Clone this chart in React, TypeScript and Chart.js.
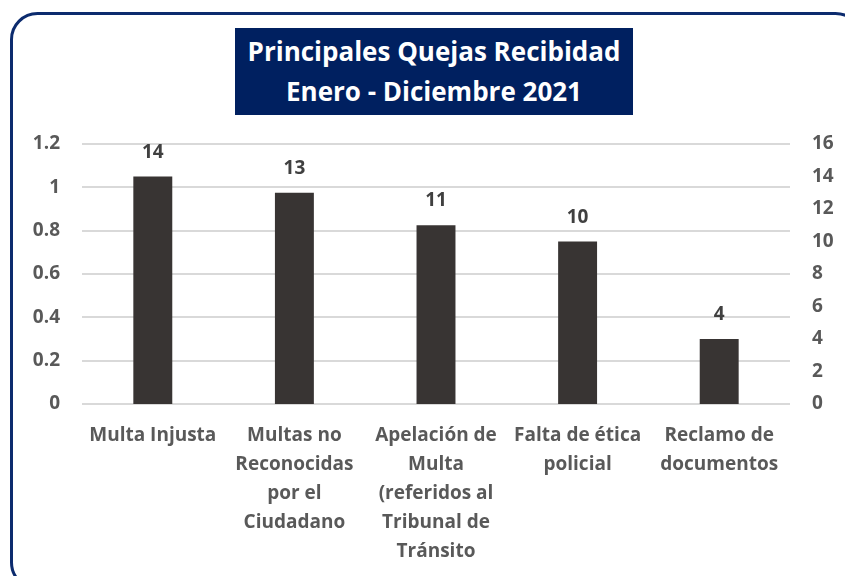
import React, { useEffect, useRef } from "react";
import { Chart, registerables } from "chart.js";

Chart.register(...registerables);

const categories: string[][] = [
  ["Multa Injusta"],
  ["Multas no", "Reconocidas", "por el", "Ciudadano"],
  ["Apelación de", "Multa", "(referidos al", "Tribunal de", "Tránsito"],
  ["Falta de ética", "policial"],
  ["Reclamo de", "documentos"],
];
const quejas: number[] = [14, 13, 11, 10, 4];
const titleLines: string[] = ["Principales Quejas Recibidad", "Enero - Diciembre 2021"];

const FONT = "'Open Sans', Lato, sans-serif";

const framePlugin = {
  id: "frame",
  beforeDraw(chart: any) {
    const ctx = chart.ctx;
    ctx.save();
    ctx.strokeStyle = "#0c2b6e";
    ctx.lineWidth = 3;
    const x = 11.5, y = 13.5, w = 850, h = 575, r = 26;
    ctx.beginPath();
    ctx.moveTo(x + r, y);
    ctx.lineTo(x + w - r, y);
    ctx.arcTo(x + w, y, x + w, y + r, r);
    ctx.lineTo(x + w, y + h - r);
    ctx.arcTo(x + w, y + h, x + w - r, y + h, r);
    ctx.lineTo(x + r, y + h);
    ctx.arcTo(x, y + h, x, y + h - r, r);
    ctx.lineTo(x, y + r);
    ctx.arcTo(x, y, x + r, y, r);
    ctx.closePath();
    ctx.stroke();
    ctx.restore();
  },
};

const valueLabels = {
  id: "valueLabels",
  afterDatasetsDraw(chart: any) {
    const ctx = chart.ctx;
    const meta = chart.getDatasetMeta(0);
    ctx.save();
    ctx.font = `bold 19px ${FONT}`;
    ctx.fillStyle = "#404040";
    ctx.textAlign = "center";
    ctx.textBaseline = "alphabetic";
    meta.data.forEach((bar: any, i: number) => {
      ctx.fillText(String(quejas[i]), bar.x, bar.y - 19);
    });
    ctx.restore();
  },
};

export default function App() {
  const ref = useRef<HTMLCanvasElement>(null);
  useEffect(() => {
    document.body.style.margin = "0";
    const chart = new Chart(ref.current!, {
      type: "bar",
      data: {
        labels: categories,
        datasets: [
          {
            data: quejas,
            backgroundColor: "#383433",
            yAxisID: "y2",
            barPercentage: 0.55,
            categoryPercentage: 0.5,
          },
        ],
      },
      options: {
        animation: false,
        responsive: false,
        layout: { padding: { top: 144, left: 0, right: 0, bottom: 0 } },
        plugins: { legend: { display: false }, tooltip: { enabled: false }, title: { display: false } },
        scales: {
          x: {
            grid: { display: false, drawTicks: false },
            border: { display: false },
            ticks: {
              color: "#595959",
              font: { family: FONT, size: 19, weight: "bold", lineHeight: 1.53 },
              maxRotation: 0,
              minRotation: 0,
              autoSkip: false,
              padding: 17,
            },
            afterFit(s: any) {
              s.height = 172;
            },
          },
          y: {
            position: "left",
            min: 0,
            max: 1.2,
            ticks: {
              stepSize: 0.2,
              color: "#595959",
              font: { family: FONT, size: 19, weight: "bold" },
              padding: 22,
              callback: (v: any) => String(Math.round(Number(v) * 10) / 10),
            },
            grid: { color: "#d9d9d9", lineWidth: 2, drawTicks: false },
            border: { display: false },
            afterFit(s: any) {
              s.width = 82;
            },
          },
          y2: {
            position: "right",
            min: 0,
            max: 16,
            ticks: {
              stepSize: 2,
              color: "#595959",
              font: { family: FONT, size: 19, weight: "bold" },
              padding: 22,
            },
            grid: { display: false, drawTicks: false },
            border: { display: false },
            afterFit(s: any) {
              s.width = 55;
            },
          },
        },
      },
      plugins: [framePlugin, valueLabels],
    });
    return () => chart.destroy();
  }, []);

  return (
    <div style={{ position: "relative", width: 845, height: 576, overflow: "hidden", background: "#fff" }}>
      <canvas ref={ref} width={845} height={576} style={{ display: "block" }} />
      <div
        style={{
          position: "absolute",
          left: 235,
          top: 28,
          width: 398,
          height: 87,
          background: "#002060",
          color: "#ffffff",
          fontFamily: FONT,
          fontWeight: "bold",
          fontSize: 26,
          lineHeight: "40px",
          textAlign: "center",
          paddingTop: 3,
          boxSizing: "border-box",
          whiteSpace: "nowrap",
        }}
      >
        {titleLines.map((t) => (
          <div key={t}>{t}</div>
        ))}
      </div>
    </div>
  );
}
